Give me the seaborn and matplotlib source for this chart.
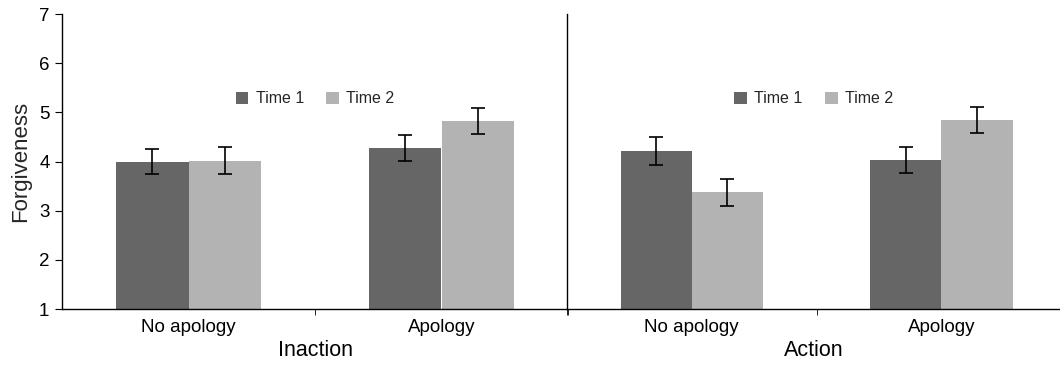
import matplotlib
matplotlib.use("Agg")
import matplotlib.pyplot as plt
import seaborn as sns
import pandas as pd

# ---- data ----
conditions = ["Inaction", "Action"]
apology_levels = ["No apology", "Apology"]
times = ["Time 1", "Time 2"]

inaction_t1 = [4.00, 4.28]
inaction_t2 = [4.02, 4.82]
action_t1 = [4.21, 4.03]
action_t2 = [3.37, 4.84]

inaction_err_t1 = [0.26, 0.26]
inaction_err_t2 = [0.28, 0.27]
action_err_t1 = [0.29, 0.27]
action_err_t2 = [0.27, 0.26]

yticks = [1, 2, 3, 4, 5, 6, 7]
colors = ["#666666", "#b3b3b3"]

rows = []
series = {
    "Inaction": (inaction_t1, inaction_t2, inaction_err_t1, inaction_err_t2),
    "Action": (action_t1, action_t2, action_err_t1, action_err_t2),
}
for cond in conditions:
    t1, t2, e1, e2 = series[cond]
    for i, ap in enumerate(apology_levels):
        rows.append(dict(Condition=cond, Apology=ap, Time="Time 1", Forgiveness=t1[i], Err=e1[i]))
        rows.append(dict(Condition=cond, Apology=ap, Time="Time 2", Forgiveness=t2[i], Err=e2[i]))
df = pd.DataFrame(rows)

sns.set_style("ticks")
plt.rcParams["font.family"] = ["Liberation Sans", "DejaVu Sans"]

fig = plt.figure(figsize=(10.6, 3.65), dpi=100)
ax1 = fig.add_axes([62 / 1060, 56 / 365, 506 / 1060, 295 / 365])
ax2 = fig.add_axes([567 / 1060, 56 / 365, 493 / 1060, 295 / 365], sharey=ax1)
axes = [ax1, ax2]
xlims = [(-0.5, 1.5), (-0.5, 1.475)]

for k, (ax, cond) in enumerate(zip(axes, conditions)):
    sub = df[df.Condition == cond]
    sns.barplot(data=sub, x="Apology", y="Forgiveness", hue="Time",
                order=apology_levels, hue_order=times, palette=colors,
                saturation=1, width=0.57, errorbar=None, linewidth=0,
                ax=ax)
    for cont, t in zip(ax.containers, times):
        s = sub[sub.Time == t].set_index("Apology").loc[apology_levels]
        xs = [p.get_x() + p.get_width() / 2 for p in cont.patches]
        hs = [p.get_height() for p in cont.patches]
        ax.errorbar(xs, hs, yerr=s["Err"].values, fmt="none", ecolor="black",
                    elinewidth=1.2, capsize=5, capthick=1.2, zorder=5)
    handles, labels = ax.get_legend_handles_labels()
    ax.legend(handles, labels, loc="center", bbox_to_anchor=(0.5, 0.712),
              ncol=2, frameon=False, fontsize=11.5, handlelength=0.8,
              handleheight=0.8, handletextpad=0.45, columnspacing=1.4,
              borderaxespad=0)
    ax.set_xlim(*xlims[k])
    ax.set_ylim(1, 7)
    ax.set_xlabel(cond, fontsize=15.5, labelpad=3, color="black")
    ax.spines["top"].set_visible(False)
    ax.spines["right"].set_visible(False)
    for sp in ax.spines.values():
        sp.set_color("black")
        sp.set_linewidth(1.0)
    ax.tick_params(axis="x", which="major", length=0, labelsize=13.5, pad=7, colors="black")
    ax.set_xticks([0.5, 1.5] if k == 0 else [-0.5, 0.5], minor=True)
    ax.tick_params(axis="x", which="minor", length=4, direction="out", color="black")

ax1.set_yticks(yticks)
ax1.set_ylabel("Forgiveness", fontsize=16, labelpad=6)
ax1.tick_params(axis="y", length=5, labelsize=13.5, pad=4, colors="black")
ax2.tick_params(axis="y", length=0, labelleft=False)
ax2.set_ylabel("")

fig.savefig("out.png", dpi=100)
